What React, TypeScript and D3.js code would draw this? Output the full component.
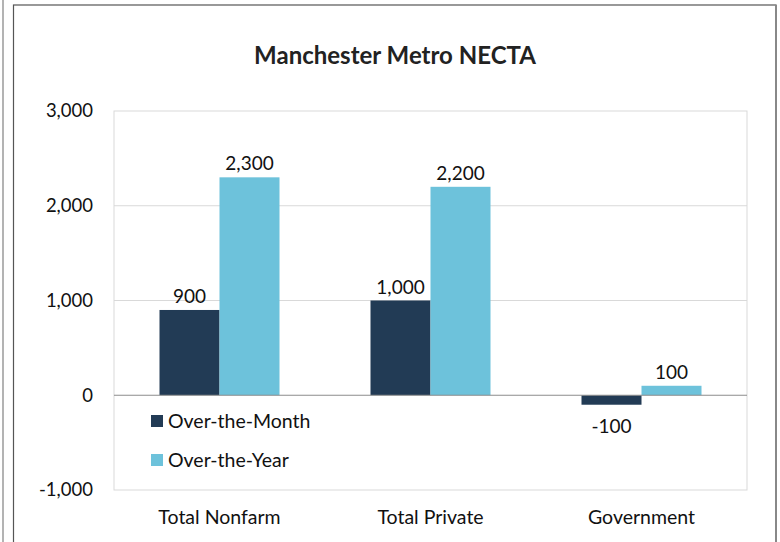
import React from "react";
import * as d3 from "d3";

const categories = ["Total Nonfarm", "Total Private", "Government"];
const seriesNames = ["Over-the-Month", "Over-the-Year"];
const overTheMonth = [900, 1000, -100];
const overTheYear = [2300, 2200, 100];
const yTicks = [-1000, 0, 1000, 2000, 3000];
const colors = ["#223B55", "#6DC2DB"];
const title = "Manchester Metro NECTA";

const W = 780;
const H = 542;
const font = "Lato, 'Open Sans', sans-serif";

const fmt = (v: number) => d3.format(",")(v).replace("\u2212", "-");

export default function App() {
  const left = 114, right = 747, top = 111, bottom = 490;
  const x = d3.scaleBand<string>().domain(categories).range([left, right]).paddingInner(0).paddingOuter(0);
  const y = d3.scaleLinear().domain([-1000, 3000]).range([bottom, top]);
  const barW = 60;
  const series = [overTheMonth, overTheYear];

  return (
    <svg width={W} height={H} style={{ position: "absolute", left: 0, top: 0 }} fontFamily={font}>
      <rect x={0} y={0} width={W} height={H} fill="#fff" />
      <line x1={3} x2={3} y1={0} y2={H} stroke="#9A9A9A" strokeWidth={1.5} />
      <rect x={13.5} y={5} width={762.5} height={H + 10} fill="none" stroke="#555" strokeWidth={1.2} />
      <line x1={776} x2={776} y1={5} y2={H} stroke="#888" strokeWidth={2} />
      <text x={395} y={64} textAnchor="middle" fontSize={24} fontWeight={700} fill="#222">{title}</text>
      <rect x={left} y={top} width={right - left} height={bottom - top} fill="none" stroke="#D9D9D9" />
      {yTicks.map((t) => (
        <g key={t}>
          {t !== 0 && t !== -1000 && t !== 3000 && (
            <line x1={left} x2={right} y1={y(t)} y2={y(t)} stroke="#D9D9D9" />
          )}
          <text x={93} y={y(t)} dy="0.35em" textAnchor="end" fontSize={18.5} fill="#111">{fmt(t)}</text>
        </g>
      ))}
      {series.map((vals, si) =>
        categories.map((c, ci) => {
          const cx = x(c)! + x.bandwidth() / 2;
          const bx = cx - barW + si * barW;
          const v = vals[ci];
          const y0 = y(0), y1 = y(v);
          return (
            <g key={`${si}-${ci}`}>
              <rect x={bx} y={Math.min(y0, y1)} width={barW} height={Math.abs(y1 - y0)} fill={colors[si]} />
              <text
                x={bx + barW / 2}
                y={v >= 0 ? y1 - 7 : y1 + 28}
                textAnchor="middle"
                fontSize={19}
                fill="#111"
              >
                {fmt(v)}
              </text>
            </g>
          );
        })
      )}
      <line x1={left} x2={right} y1={y(0)} y2={y(0)} stroke="#8C8C8C" strokeWidth={1.2} />
      {categories.map((c) => (
        <text key={c} x={x(c)! + x.bandwidth() / 2} y={524} textAnchor="middle" fontSize={19.5} fill="#111">{c}</text>
      ))}
      {seriesNames.map((n, i) => (
        <g key={n}>
          <rect x={151} y={415 + i * 39} width={12} height={12} fill={colors[i]} />
          <text x={168} y={428 + i * 39} fontSize={19.5} fill="#111">{n}</text>
        </g>
      ))}
    </svg>
  );
}
